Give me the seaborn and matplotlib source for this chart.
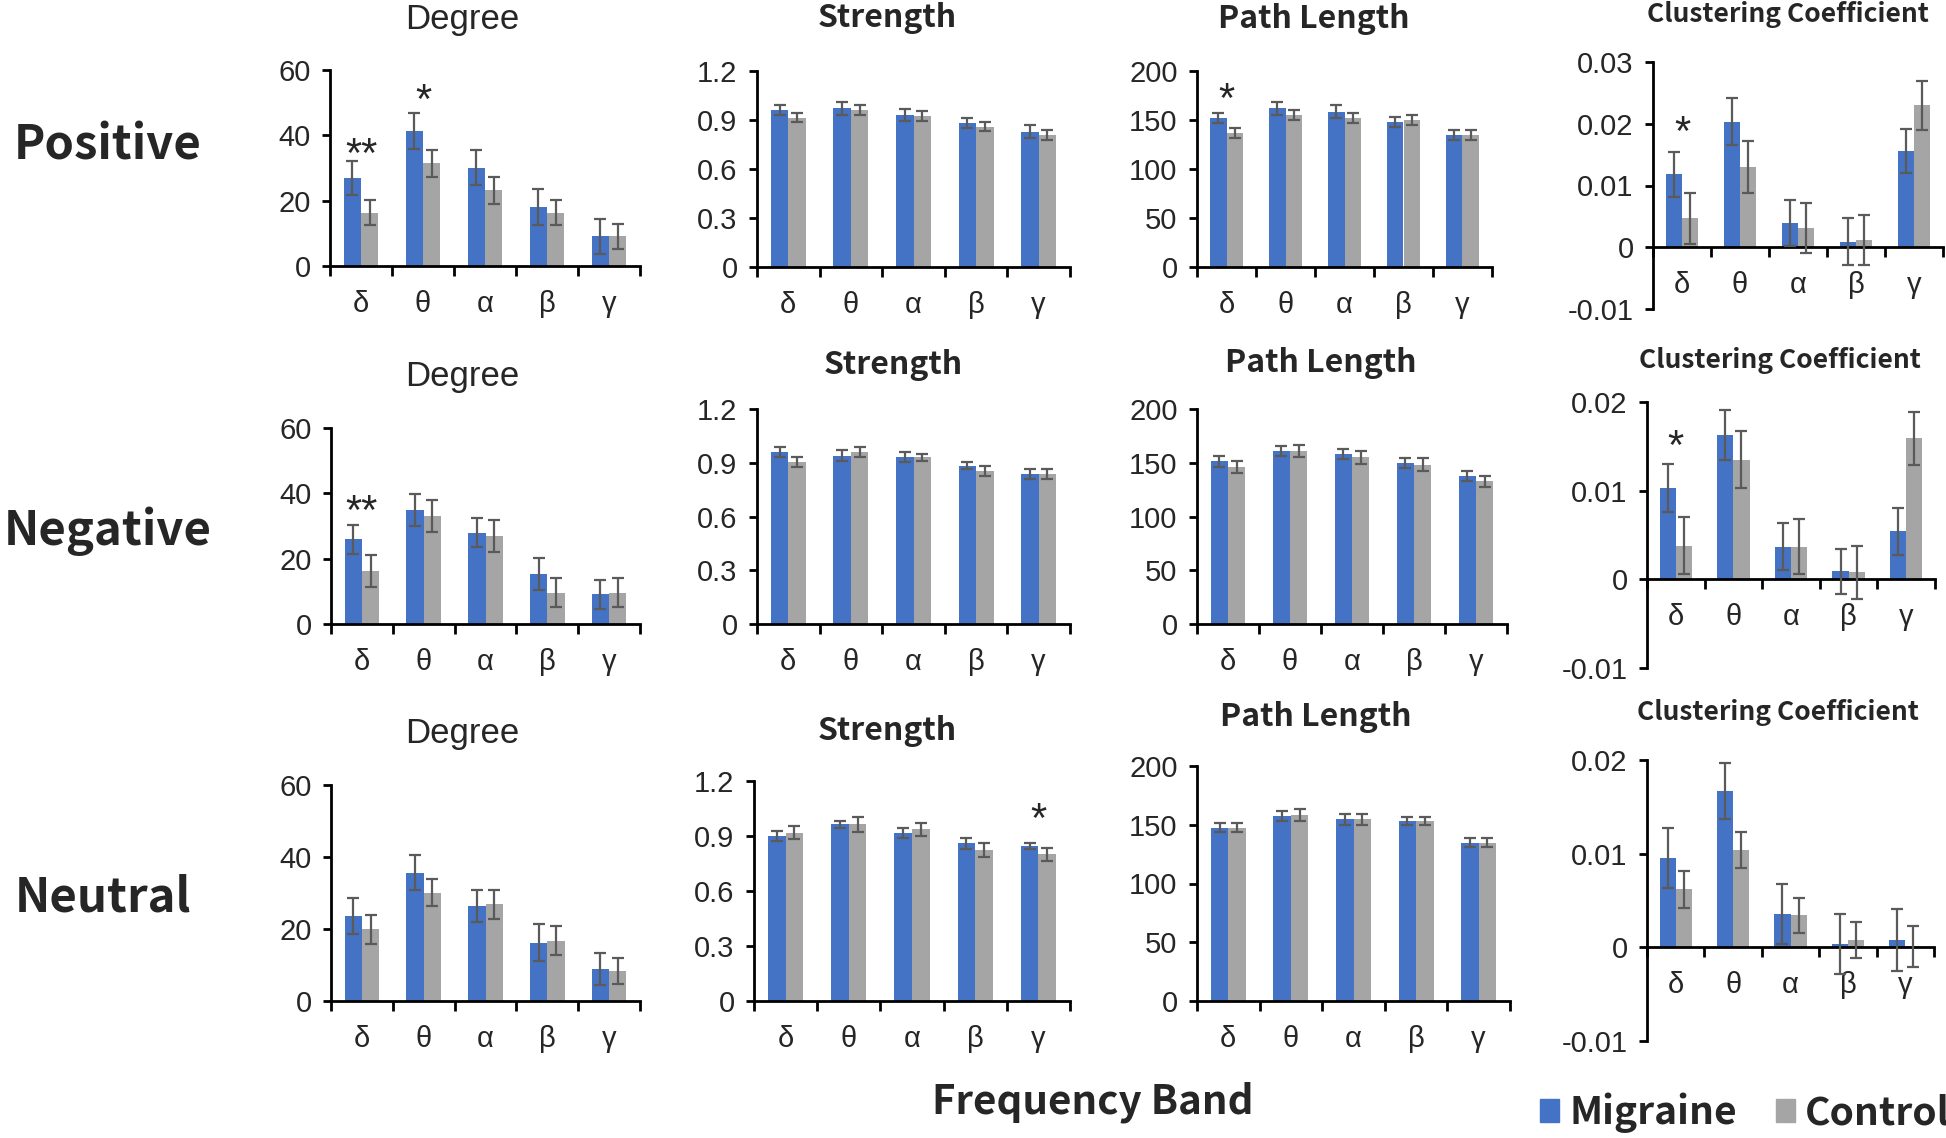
import numpy as np
import pandas as pd
import matplotlib
matplotlib.use("Agg")
import matplotlib.pyplot as plt
import seaborn as sns

bands = ["δ", "θ", "α", "β", "γ"]
groups = ["Migraine", "Control"]
rows = ["Positive", "Negative", "Neutral"]
metrics = ["Degree", "Strength", "Path Length", "Clustering Coefficient"]

# Positive
pos_degree_mig = [27.0, 41.3, 30.1, 18.1, 9.1]
pos_degree_mig_err = [5.2, 5.4, 5.4, 5.6, 5.4]
pos_degree_ctl = [16.3, 31.4, 23.2, 16.3, 9.1]
pos_degree_ctl_err = [3.9, 4.1, 4.1, 3.9, 3.9]
pos_strength_mig = [0.962, 0.972, 0.931, 0.880, 0.829]
pos_strength_mig_err = [0.03, 0.04, 0.035, 0.03, 0.04]
pos_strength_ctl = [0.915, 0.962, 0.925, 0.860, 0.809]
pos_strength_ctl_err = [0.03, 0.03, 0.03, 0.03, 0.03]
pos_path_mig = [152.3, 161.9, 158.4, 148.2, 134.6]
pos_path_mig_err = [5.0, 6.8, 6.8, 5.0, 5.0]
pos_path_ctl = [137.0, 155.0, 152.3, 149.9, 134.6]
pos_path_ctl_err = [5.0, 5.0, 5.0, 5.0, 5.0]
pos_clust_mig = [0.0118, 0.0203, 0.0039, 0.0009, 0.0156]
pos_clust_mig_err = [0.0037, 0.0038, 0.0037, 0.0038, 0.0035]
pos_clust_ctl = [0.0047, 0.0130, 0.0031, 0.0012, 0.0230]
pos_clust_ctl_err = [0.0041, 0.0042, 0.0040, 0.0040, 0.0040]

# Negative
neg_degree_mig = [25.9, 35.0, 27.9, 15.2, 9.1]
neg_degree_mig_err = [4.4, 4.9, 4.4, 4.9, 4.4]
neg_degree_ctl = [16.2, 33.0, 26.9, 9.6, 9.6]
neg_degree_ctl_err = [4.9, 4.9, 4.9, 4.4, 4.4]
neg_strength_mig = [0.958, 0.939, 0.930, 0.883, 0.837]
neg_strength_mig_err = [0.028, 0.03, 0.028, 0.019, 0.028]
neg_strength_ctl = [0.902, 0.958, 0.930, 0.855, 0.837]
neg_strength_ctl_err = [0.028, 0.028, 0.02, 0.028, 0.028]
neg_path_mig = [151.2, 161.2, 158.1, 149.7, 137.9]
neg_path_mig_err = [4.7, 4.7, 4.7, 4.7, 4.7]
neg_path_ctl = [145.7, 161.2, 155.0, 148.1, 132.6]
neg_path_ctl_err = [5.6, 5.6, 6.2, 6.2, 4.7]
neg_clust_mig = [0.0103, 0.0163, 0.0037, 0.0009, 0.0054]
neg_clust_mig_err = [0.0027, 0.0028, 0.0027, 0.0025, 0.0026]
neg_clust_ctl = [0.0038, 0.0135, 0.0037, 0.0008, 0.0159]
neg_clust_ctl_err = [0.0032, 0.0032, 0.0031, 0.0030, 0.0030]

# Neutral
neu_degree_mig = [23.6, 35.6, 26.4, 16.2, 8.8]
neu_degree_mig_err = [4.9, 4.9, 4.4, 5.1, 4.4]
neu_degree_ctl = [19.9, 30.1, 26.9, 16.7, 8.3]
neu_degree_ctl_err = [4.0, 3.8, 4.0, 4.0, 3.6]
neu_strength_mig = [0.900, 0.964, 0.918, 0.860, 0.845]
neu_strength_mig_err = [0.027, 0.018, 0.027, 0.03, 0.018]
neu_strength_ctl = [0.918, 0.964, 0.936, 0.824, 0.800]
neu_strength_ctl_err = [0.036, 0.04, 0.036, 0.04, 0.036]
neu_path_mig = [147.4, 157.4, 154.5, 153.1, 134.7]
neu_path_mig_err = [3.7, 4.2, 5.0, 3.7, 3.7]
neu_path_ctl = [147.4, 158.2, 154.5, 153.1, 134.7]
neu_path_ctl_err = [3.7, 4.8, 4.3, 3.7, 3.7]
neu_clust_mig = [0.0095, 0.0167, 0.0036, 0.0004, 0.0008]
neu_clust_mig_err = [0.0032, 0.0030, 0.0032, 0.0032, 0.0033]
neu_clust_ctl = [0.0062, 0.0104, 0.0034, 0.0008, 0.0001]
neu_clust_ctl_err = [0.0020, 0.0019, 0.0019, 0.0019, 0.0022]

# significance marks: (row, metric, band index, label, y of star centre)
sig_rows = ["Positive", "Positive", "Positive", "Positive", "Negative", "Negative", "Neutral"]
sig_metrics = ["Degree", "Degree", "Path Length", "Clustering Coefficient",
               "Degree", "Clustering Coefficient", "Strength"]
sig_bands = [0, 1, 0, 0, 0, 0, 4]
sig_labels = ["**", "*", "*", "*", "**", "*", "*"]
sig_y = [35.5, 51.8, 175.6, 0.0192, 35.8, 0.0155, 1.015]

panels = {
    ("Positive", "Degree"): (pos_degree_mig, pos_degree_mig_err, pos_degree_ctl, pos_degree_ctl_err),
    ("Positive", "Strength"): (pos_strength_mig, pos_strength_mig_err, pos_strength_ctl, pos_strength_ctl_err),
    ("Positive", "Path Length"): (pos_path_mig, pos_path_mig_err, pos_path_ctl, pos_path_ctl_err),
    ("Positive", "Clustering Coefficient"): (pos_clust_mig, pos_clust_mig_err, pos_clust_ctl, pos_clust_ctl_err),
    ("Negative", "Degree"): (neg_degree_mig, neg_degree_mig_err, neg_degree_ctl, neg_degree_ctl_err),
    ("Negative", "Strength"): (neg_strength_mig, neg_strength_mig_err, neg_strength_ctl, neg_strength_ctl_err),
    ("Negative", "Path Length"): (neg_path_mig, neg_path_mig_err, neg_path_ctl, neg_path_ctl_err),
    ("Negative", "Clustering Coefficient"): (neg_clust_mig, neg_clust_mig_err, neg_clust_ctl, neg_clust_ctl_err),
    ("Neutral", "Degree"): (neu_degree_mig, neu_degree_mig_err, neu_degree_ctl, neu_degree_ctl_err),
    ("Neutral", "Strength"): (neu_strength_mig, neu_strength_mig_err, neu_strength_ctl, neu_strength_ctl_err),
    ("Neutral", "Path Length"): (neu_path_mig, neu_path_mig_err, neu_path_ctl, neu_path_ctl_err),
    ("Neutral", "Clustering Coefficient"): (neu_clust_mig, neu_clust_mig_err, neu_clust_ctl, neu_clust_ctl_err),
}

yticks = {
    "Degree": [0, 20, 40, 60],
    "Strength": [0, 0.3, 0.6, 0.9, 1.2],
    "Path Length": [0, 50, 100, 150, 200],
}
clust_ticks = {"Positive": [-0.01, 0, 0.01, 0.02, 0.03],
               "Negative": [-0.01, 0, 0.01, 0.02],
               "Neutral": [-0.01, 0, 0.01, 0.02]}

# layout in pixels: left, right, y of lowest tick, y of highest tick
W, H = 1946, 1138
boxes = {
    ("Positive", "Degree"): (330, 640, 266, 70),
    ("Positive", "Strength"): (757, 1070, 267, 71),
    ("Positive", "Path Length"): (1197, 1492, 267, 71),
    ("Positive", "Clustering Coefficient"): (1653, 1943, 309, 62),
    ("Negative", "Degree"): (331, 640, 624, 428),
    ("Negative", "Strength"): (757, 1070, 624, 409),
    ("Negative", "Path Length"): (1197, 1507, 624, 409),
    ("Negative", "Clustering Coefficient"): (1647, 1935, 668, 402),
    ("Neutral", "Degree"): (331, 640, 1001, 785),
    ("Neutral", "Strength"): (754, 1070, 1001, 781),
    ("Neutral", "Path Length"): (1197, 1510, 1001, 766),
    ("Neutral", "Clustering Coefficient"): (1647, 1934, 1041, 760),
}
title_pos = {
    ("Positive", "Degree"): (462, 20), ("Positive", "Strength"): (887, 18),
    ("Positive", "Path Length"): (1314, 19), ("Positive", "Clustering Coefficient"): (1788, 14),
    ("Negative", "Degree"): (462, 376), ("Negative", "Strength"): (893, 365),
    ("Negative", "Path Length"): (1321, 363), ("Negative", "Clustering Coefficient"): (1780, 361),
    ("Neutral", "Degree"): (462, 734), ("Neutral", "Strength"): (887, 731),
    ("Neutral", "Path Length"): (1316, 717), ("Neutral", "Clustering Coefficient"): (1778, 713),
}
row_label_pos = {"Positive": (108, 146), "Negative": (108, 531), "Neutral": (103, 897)}

blue = "#4472C4"
grey = "#A5A5A5"

sns.set_theme(style="white")
plt.rcParams["font.family"] = ["Liberation Sans", "DejaVu Sans"]
cjk = ["Noto Sans CJK SC", "DejaVu Sans"]

fig = plt.figure(figsize=(W / 100, H / 100), dpi=100)

for row in rows:
    for metric in metrics:
        mig, mig_err, ctl, ctl_err = panels[(row, metric)]
        df = pd.DataFrame({
            "band": bands * 2,
            "group": ["Migraine"] * 5 + ["Control"] * 5,
            "value": list(mig) + list(ctl),
        })
        left, right, ylo, yhi = boxes[(row, metric)]
        ax = fig.add_axes([left / W, 1 - ylo / H, (right - left) / W, (ylo - yhi) / H])
        sns.barplot(data=df, x="band", y="value", hue="group", order=bands,
                    hue_order=groups, palette=[blue, grey], width=0.56, gap=0,
                    errorbar=None, saturation=1, linewidth=0, legend=False, ax=ax)
        for cont, errs in zip(ax.containers, [mig_err, ctl_err]):
            for bar, e in zip(cont, errs):
                ax.errorbar(bar.get_x() + bar.get_width() / 2, bar.get_height(), yerr=e,
                            fmt="none", ecolor="#5a5a5a", elinewidth=1.6, capsize=4,
                            capthick=1.6, zorder=5)

        ticks = clust_ticks[row] if metric == "Clustering Coefficient" else yticks[metric]
        ax.set_ylim(ticks[0], ticks[-1])
        ax.set_yticks(ticks)
        ax.set_yticklabels(["0" if t == 0 else f"{t:g}" for t in ticks])
        ax.set_xlim(-0.5, 4.5)
        ax.set_xticks(range(5))
        ax.set_xticks(np.arange(-0.5, 5, 1.0), minor=True)
        ax.set_xlabel("")
        ax.set_ylabel("")
        for s in ["top", "right"]:
            ax.spines[s].set_visible(False)
        for s in ["left", "bottom"]:
            ax.spines[s].set_linewidth(2)
            ax.spines[s].set_color("black")
        if metric == "Clustering Coefficient":
            ax.spines["bottom"].set_position(("data", 0))
        ax.tick_params(axis="y", direction="out", length=6, width=2, labelsize=21, pad=8,
                       color="black", left=True)
        ax.tick_params(axis="x", which="major", length=0, labelsize=21, pad=17)
        ax.tick_params(axis="x", which="minor", direction="out", length=7, width=2,
                       color="black", bottom=True)
        ax.set_facecolor("none")

        tx, ty = title_pos[(row, metric)]
        if metric == "Degree":
            fig.text(tx / W, 1 - ty / H, metric, ha="center", va="center", fontsize=25)
        elif metric == "Clustering Coefficient":
            fig.text(tx / W, 1 - ty / H, metric, ha="center", va="center", fontsize=19,
                     family=cjk, fontweight="bold")
        else:
            fig.text(tx / W, 1 - ty / H, metric, ha="center", va="center", fontsize=23,
                     family=cjk, fontweight="bold")

        for r, m, b, lab, y in zip(sig_rows, sig_metrics, sig_bands, sig_labels, sig_y):
            if r == row and m == metric:
                ax.annotate(lab, (b, y), xytext=(0, -12), textcoords="offset points",
                            ha="center", va="baseline", fontsize=30)

for row in rows:
    x, y = row_label_pos[row]
    fig.text(x / W, 1 - y / H, row, ha="center", va="center", fontsize=34,
             family=cjk, fontweight="bold")

fig.text(1093 / W, 1 - 1102 / H, "Frequency Band", ha="center", va="center",
         fontsize=29, family=cjk, fontweight="bold")

handles = [plt.Rectangle((0, 0), 1, 1, color=c) for c in [blue, grey]]
fig.legend(handles, groups, loc="center left", bbox_to_anchor=(1540 / W, 1 - 1113 / H),
           ncol=2, frameon=False, handlelength=0.5, handleheight=0.5,
           handletextpad=0.25, columnspacing=1.0, borderpad=0, borderaxespad=0,
           prop={"family": cjk, "size": 28, "weight": "bold"})

fig.savefig("out.png", dpi=100, facecolor="white")
